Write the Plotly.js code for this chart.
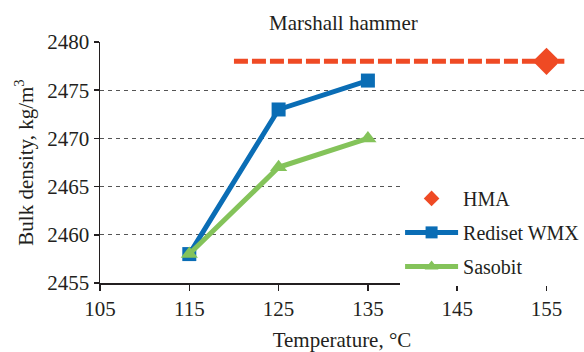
<!DOCTYPE html>
<html>
<head>
<meta charset="utf-8">
<script src="https://cdn.plot.ly/plotly-3.0.1.min.js"></script>
<style>html,body{margin:0;padding:0;background:#fff;}#chart{width:584px;height:352px;}</style>
</head>
<body>
<div id="chart"></div>
<script>
// Data
const temps = [115, 125, 135];
const rediset = [2458, 2473, 2476];
const sasobit = [2458, 2467, 2470];
const hmaX = [155];
const hmaY = [2478];
const hmaLineX = [120, 157];
const hmaLineY = [2478, 2478];
const xTicks = [105, 115, 125, 135, 145, 155];
const yTicks = [2455, 2460, 2465, 2470, 2475, 2480];

const FONT = '"Liberation Serif", "Times New Roman", serif';
const RED = '#EF4A24', BLUE = '#0A6DB5', GREEN = '#84C35A';
const INK = '#231f20';

const traces = [
  {x: hmaLineX, y: hmaLineY, mode: 'lines', showlegend: false, hoverinfo: 'skip',
   line: {color: RED, width: 5, dash: '14px,4px'}},
  {x: hmaX, y: hmaY, mode: 'markers', name: 'HMA', legendgroup: 'a',
   marker: {symbol: 'diamond', size: 21, color: RED}},
  {x: temps, y: rediset, mode: 'lines+markers', name: 'Rediset WMX', legendgroup: 'b',
   line: {color: BLUE, width: 5}, marker: {symbol: 'square', size: 14, color: BLUE}},
  {x: temps, y: sasobit, mode: 'lines+markers', name: 'Sasobit', legendgroup: 'c',
   line: {color: GREEN, width: 5}, marker: {symbol: 'triangle-up', size: 15, color: GREEN}}
];

const layout = {
  width: 584, height: 352,
  margin: {l: 100, r: 0, t: 42, b: 69, autoexpand: false},
  paper_bgcolor: '#fff', plot_bgcolor: '#fff',
  font: {family: FONT, size: 21, color: INK},
  title: {text: 'Marshall hammer', x: 0.588, xanchor: 'center', y: 0.935, yanchor: 'middle',
          font: {family: FONT, size: 21, color: INK}},
  xaxis: {
    range: [105, 159.2], tickvals: xTicks, ticktext: xTicks.map(String),
    showgrid: false, zeroline: false, showline: true, linecolor: INK, linewidth: 1.5,
    ticks: 'outside', ticklen: 6, tickcolor: INK, tickwidth: 1.5,
    tickfont: {family: FONT, size: 21, color: INK},
    title: {text: 'Temperature, °C', standoff: 21, font: {family: FONT, size: 21, color: INK}},
    automargin: false
  },
  yaxis: {
    range: [2455, 2480], tickvals: yTicks, ticktext: yTicks.map(String),
    showgrid: true, gridcolor: '#555', gridwidth: 1, griddash: '4px,4px',
    zeroline: false, showline: true, linecolor: INK, linewidth: 1.5,
    ticks: 'outside', ticklen: 5, tickcolor: INK, tickwidth: 1.5,
    tickfont: {family: FONT, size: 21, color: INK},
    title: {text: 'Bulk density, kg/m<sup>3</sup>', standoff: 8, font: {family: FONT, size: 21, color: INK}},
    automargin: false
  },
  showlegend: true,
  legend: {x: 0.62, xanchor: 'left', y: 0.432, yanchor: 'top',
           bgcolor: '#fff', borderwidth: 0, itemsizing: 'constant',
           font: {family: FONT, size: 20, color: INK}, traceorder: 'grouped', tracegroupgap: 5,
           itemwidth: 53}
};

Plotly.newPlot('chart', traces, layout, {displayModeBar: false, staticPlot: true});
</script>
</body>
</html>
